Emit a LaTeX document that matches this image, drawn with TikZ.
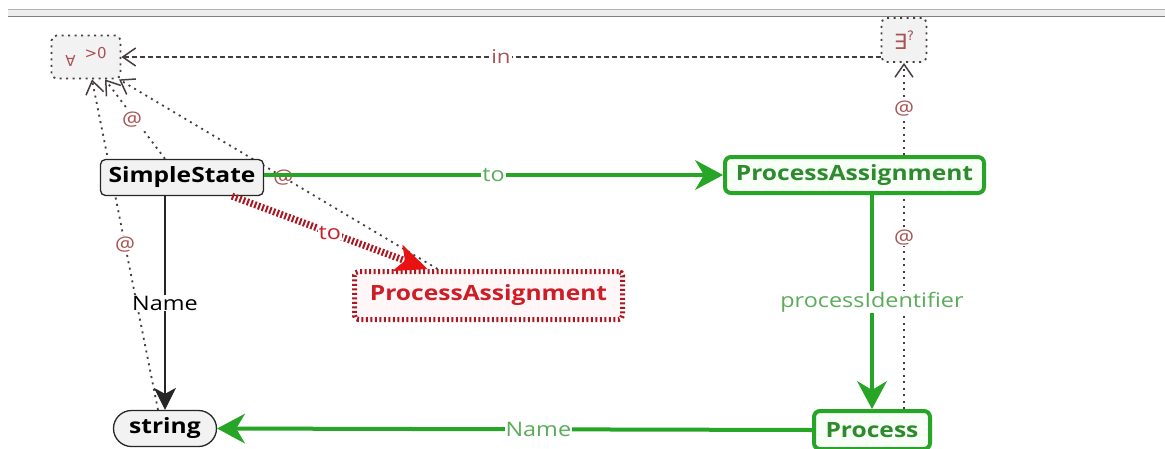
\documentclass[tikz,border=0pt]{standalone}
\usepackage{fontspec}
\setmainfont{Open Sans}[FakeStretch=1.17]
\newfontfamily\symfnt{DejaVu Sans}
\usetikzlibrary{arrows.meta}
\pgfdeclarelayer{bg}
\pgfsetlayers{bg,main}

\definecolor{grn}{RGB}{38,165,38}
\definecolor{grntxt}{RGB}{45,138,45}
\definecolor{grnlab}{RGB}{90,172,90}
\definecolor{rdline}{RGB}{170,25,35}
\definecolor{rdtxt}{RGB}{205,30,40}
\definecolor{rdarrow}{RGB}{232,18,18}
\definecolor{atc}{RGB}{168,82,82}
\definecolor{dotc}{RGB}{70,62,62}
\definecolor{boxfill}{RGB}{242,242,242}

\newcommand\boxfnt{\fontsize{21pt}{21pt}\selectfont\bfseries}
\newcommand\labfnt{\fontsize{20pt}{20pt}\selectfont}
\newcommand\atfnt{\fontsize{19pt}{19pt}\selectfont}

\tikzset{
  sbox/.style={draw=black!85, line width=1.3pt, rounded corners=5pt, fill=boxfill,
    text=black, font=\boxfnt, inner sep=0pt},
  gbox/.style={draw=grn, line width=4pt, rounded corners=6pt, fill=green!3,
    text=grntxt, font=\boxfnt, inner sep=0pt},
  rbox/.style={draw=rdline, line width=5pt, dash pattern=on 2pt off 2.5pt,
    rounded corners=4pt, fill=red!3, text=rdtxt, font=\boxfnt, inner sep=0pt},
  qbox/.style={draw=dotc, line width=1.8pt, dash pattern=on 2pt off 4.5pt,
    rounded corners=5pt, fill=black!5, text=atc, inner sep=0pt},
  gline/.style={draw=grn, line width=4pt,
    -{Stealth[length=28pt,width=30pt,inset=9pt,line width=1pt]}},
  bline/.style={draw=black!85, line width=1.6pt,
    -{Stealth[length=22pt,width=22pt,inset=6pt,line width=1pt]}},
  rline/.style={draw=rdline, line width=7pt, dash pattern=on 2pt off 2pt,
    -{Stealth[length=32pt,width=28pt,inset=8pt,line width=1pt,color=rdarrow]}},
  dotline/.style={draw=dotc, line width=1.8pt, dash pattern=on 2pt off 4.5pt},
  dashline/.style={draw=dotc, line width=1.4pt, dash pattern=on 5pt off 3pt},
  openhead/.style={-{Straight Barb[length=13pt,width=18pt,line width=1.5pt]}},
  glab/.style={fill=white, text=grnlab, font=\labfnt, inner sep=1pt},
  blab/.style={fill=white, text=black, font=\labfnt, inner sep=1pt},
  rlab/.style={fill=white, text=rdtxt, font=\labfnt, inner sep=1pt},
  atlab/.style={fill=white, text=atc, font=\atfnt, inner sep=1pt},
}

\begin{document}
\begin{tikzpicture}[x=1pt,y=-1pt]
\useasboundingbox (0,0) rectangle (1165,448);
\clip (0,0) rectangle (1165,448);
\begin{pgfonlayer}{bg}
\fill[white] (0,0) rectangle (1165,448);
\end{pgfonlayer}

% window rule along the top edge
\fill[black!7] (8,9) rectangle (1165,16.5);
\draw[black!30, line width=1pt] (8,9) -- (1165,9);
\draw[black!50, line width=1.2pt] (8,16.5) -- (1165,16.5);

% quantifier boxes
\node[qbox, minimum width=69pt, minimum height=43pt] (fa) at (86,57)
  {\symfnt\fontsize{15pt}{15pt}\selectfont ∀\hspace{9pt}\raisebox{8pt}{>0}};
\node[qbox, minimum width=45pt, minimum height=44pt] (ex) at (904,40)
  {\symfnt\fontsize{21pt}{21pt}\selectfont ∃\raisebox{9pt}{\fontsize{13pt}{13pt}\selectfont ?}};

% class boxes
\node[sbox, minimum width=163pt, minimum height=36pt] (ss) at (182,177.5) {SimpleState};
\node[gbox, minimum width=259pt, minimum height=36pt] (gpa) at (854.5,175) {ProcessAssignment};
\node[rbox, minimum width=268pt, minimum height=48pt] (rpa) at (488.5,295.5) {ProcessAssignment};
\node[gbox, minimum width=116pt, minimum height=38pt] (proc) at (872,430) {Process};
\node[sbox, rounded corners=18pt, minimum width=103pt, minimum height=36pt] (str) at (165,428.5) {string};

% dotted references, kept behind the boxes
\begin{pgfonlayer}{bg}
\draw[dotline, openhead] ([xshift=-7pt]str.north) -- node[atlab, pos=.5] {@} ([xshift=6pt]fa.south);
\draw[dotline, openhead] ([xshift=-17pt]ss.north) -- node[atlab, pos=.5, xshift=-3pt] {@} ([xshift=19pt]fa.south);
\draw[dotline, openhead] ([xshift=-51pt]rpa.north) -- node[text=atc, font=\atfnt, inner sep=1pt, pos=.484] {@} ([xshift=33pt]fa.south);
\draw[dashline, openhead] (fa.east -| ex.west) -- node[atlab] {in} (fa.east);
\draw[dotline, openhead] (gpa.north -| ex.south) -- node[atlab] {@} (ex.south);
\draw[dotline] (proc.north -| ex.south) -- node[atlab, pos=.8] {@} (gpa.south -| ex.south);
\end{pgfonlayer}

% associations
\draw[bline] (ss.south -| str.north) -- node[blab] {Name} (str.north);
\draw[gline] (ss.east |- gpa.west) -- node[glab] {to} (gpa.west);
\draw[gline] (gpa.south -| proc.north) -- node[glab] {processIdentifier} (proc.north);
\draw[gline] (proc.west) -- node[glab, pos=.46] {Name} (str.east);
\draw[rline] ([xshift=50pt]ss.south) -- node[rlab] {to} ([xshift=-61pt]rpa.north);
\end{tikzpicture}
\end{document}
